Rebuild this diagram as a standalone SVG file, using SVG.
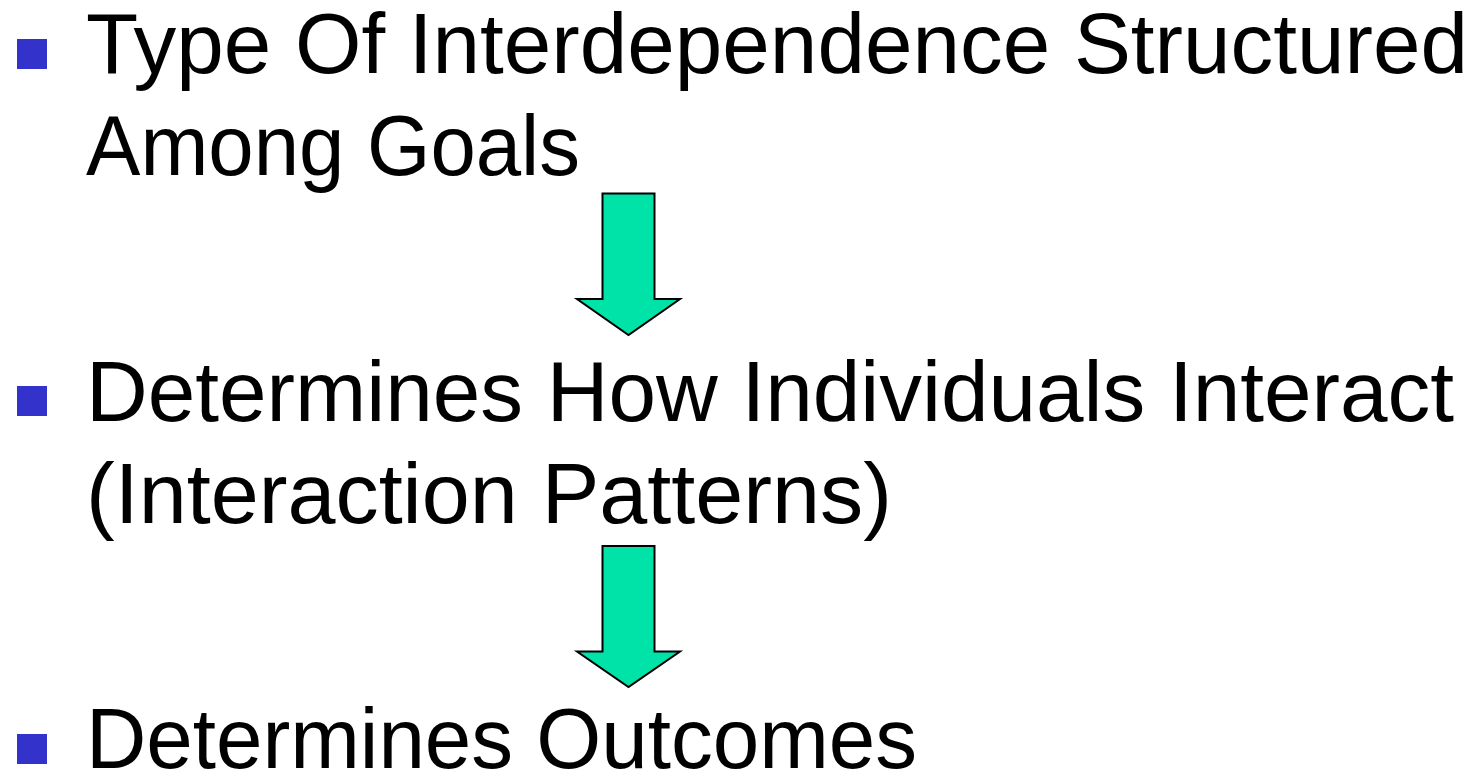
<svg xmlns="http://www.w3.org/2000/svg" width="1483" height="770" viewBox="0 0 1483 770">
<style>
.t{font-family:"Liberation Sans",Arial,sans-serif;font-size:86px;fill:#000}
.b{fill:#3333CC}
.a{fill:#00E3A8;stroke:#000;stroke-width:2;stroke-linejoin:miter}
</style>
<rect width="1483" height="770" fill="#fff"/>
<g id="item1">
<rect class="b" x="17" y="39" width="30" height="30"/>
<text class="t" x="86" y="73" textLength="1382" lengthAdjust="spacingAndGlyphs">Type Of Interdependence Structured</text>
<text class="t" x="86" y="175" textLength="494" lengthAdjust="spacingAndGlyphs">Among Goals</text>
</g>
<g id="item2">
<rect class="b" x="17" y="386" width="30" height="30"/>
<text class="t" x="86" y="421" textLength="1368" lengthAdjust="spacingAndGlyphs">Determines How Individuals Interact</text>
<text class="t" x="86" y="523" textLength="806" lengthAdjust="spacingAndGlyphs">(Interaction Patterns)</text>
</g>
<g id="item3">
<rect class="b" x="17" y="734" width="30" height="30"/>
<text class="t" x="86" y="768" textLength="831" lengthAdjust="spacingAndGlyphs">Determines Outcomes</text>
</g>
<g id="connectors">
<path class="a" d="M602.5 193.5 H654.5 V299 H680 L628.5 335 L577 299 H602.5 Z"/>
<path class="a" d="M602.5 546 H654.5 V651.5 H680 L628.5 687 L577 651.5 H602.5 Z"/>
</g>
</svg>
